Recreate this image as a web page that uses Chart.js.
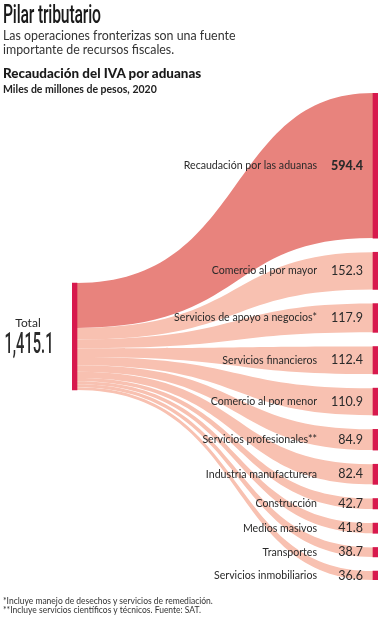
<!DOCTYPE html>
<html>
<head>
<meta charset="utf-8">
<script src="https://cdn.jsdelivr.net/npm/chart.js@4"></script>
<style>
body { margin: 0; background: #fff; font-family: Lato, sans-serif; color: #222; }
#wrap { position: relative; width: 385px; height: 620px; overflow: hidden; }
canvas { position: absolute; left: 0; top: 0; }
.t { position: absolute; left: 3px; white-space: nowrap; }
#title { top: 0px; font-family: Roboto; font-size: 25px; font-weight: 500; transform: scaleX(0.63); transform-origin: left top; letter-spacing: -0.3px; color: #1a1a1a; }
#sub { top: 29px; font-size: 12.4px; line-height: 14px; color: #333; }
#head { top: 65px; font-size: 13.4px; font-weight: 900; color: #1a1a1a; }
#unit { top: 83px; font-size: 10.5px; font-weight: bold; color: #222; }
#notes { top: 597px; font-size: 8.5px; line-height: 9px; color: #333; }
</style>
</head>
<body>
<div id="wrap">
  <canvas id="chart" width="385" height="620"></canvas>
  <div class="t" id="title">Pilar tributario</div>
  <div class="t" id="sub">Las operaciones fronterizas son una fuente<br>importante de recursos fiscales.</div>
  <div class="t" id="head">Recaudación del IVA por aduanas</div>
  <div class="t" id="unit">Miles de millones de pesos, 2020</div>
  <div class="t" id="notes">*Incluye manejo de desechos y servicios de remediación.<br>**Incluye servicios científicos y técnicos. Fuente: SAT.</div>
</div>
<script>
// datos
const totalLabel = 'Total';
const total = 1415.1;
const categories = [
    'Recaudación por las aduanas',
    'Comercio al por mayor',
    'Servicios de apoyo a negocios*',
    'Servicios financieros',
    'Comercio al por menor',
    'Servicios profesionales**',
    'Industria manufacturera',
    'Construcción',
    'Medios masivos',
    'Transportes',
    'Servicios inmobiliarios'
];
const values = [594.4, 152.3, 117.9, 112.4, 110.9, 84.9, 82.4, 42.7, 41.8, 38.7, 36.6];

const GAP = 58;           // separacion entre nodos (en unidades del eje derecho)
const nodeColor = '#d7194d';
const bigFlow = '#e8837d';
const smallFlow = '#f8c1b1';

// posiciones apiladas de los nodos de la derecha y de la izquierda
let rightNodes = [];
let leftStack = [];
let accR = 0, accL = 0;
values.forEach((v, i) => {
    rightNodes.push({ x: 1, y: [accR, accR + v] });
    leftStack.push([accL, accL + v]);
    accR += v + GAP;
    accL += v;
});
const rightMax = accR - GAP;
const leftSpan = total * 4.55;

function fmt(n) {
    return n.toLocaleString('en-US', { minimumFractionDigits: 1, maximumFractionDigits: 1 });
}

const flowPlugin = {
    id: 'flows',
    beforeDatasetsDraw(chart) {
        const ctx = chart.ctx;
        const sx = chart.scales.x, yL = chart.scales.yL, yR = chart.scales.yR;
        const x0 = sx.getPixelForValue(0) + 5;
        const x1 = sx.getPixelForValue(1) - 5;
        const c0 = x0 + (x1 - x0) * 0.58;
        const c1 = x1 - (x1 - x0) * 0.5;
        ctx.save();
        for (let i = values.length - 1; i >= 0; i--) {
            const lt = yL.getPixelForValue(leftStack[i][0]);
            const lb = yL.getPixelForValue(leftStack[i][1]);
            const rt = yR.getPixelForValue(rightNodes[i].y[0]);
            const rb = yR.getPixelForValue(rightNodes[i].y[1]);
            ctx.beginPath();
            ctx.moveTo(x0, lt);
            ctx.bezierCurveTo(c0, lt, c1, rt, x1, rt);
            ctx.lineTo(x1, rb);
            ctx.bezierCurveTo(c1, rb, c0, lb, x0, lb);
            ctx.closePath();
            ctx.fillStyle = i == 0 ? bigFlow : smallFlow;
            ctx.fill();
        }
        ctx.restore();
    },
    afterDatasetsDraw(chart) {
        const ctx = chart.ctx;
        const yL = chart.scales.yL, yR = chart.scales.yR;
        ctx.save();
        ctx.textBaseline = 'middle';
        ctx.fillStyle = '#2a2a2a';
        values.forEach((v, i) => {
            const y = yR.getPixelForValue((rightNodes[i].y[0] + rightNodes[i].y[1]) / 2);
            ctx.textAlign = 'right';
            ctx.font = '10.6px Lato';
            ctx.fillText(categories[i], 317, y);
            ctx.font = i == 0 ? '900 12.5px Lato' : '12.5px Lato';
            ctx.fillText(fmt(v), 363, y);
        });
        // total a la izquierda
        const yc = yL.getPixelForValue(total / 2);
        ctx.textAlign = 'center';
        ctx.font = '12px Lato';
        ctx.fillText(totalLabel, 28, yc - 13);
        ctx.font = '500 30px Roboto';
        const txt = fmt(total);
        const w = ctx.measureText(txt).width;
        ctx.translate(29, yc + 9);
        ctx.scale(49 / w, 1);
        ctx.fillText(txt, 0, 0);
        ctx.restore();
    }
};

new Chart(document.getElementById('chart'), {
    type: 'bar',
    data: {
        datasets: [{
            label: totalLabel,
            data: [{ x: 0, y: [0, total] }],
            yAxisID: 'yL',
            backgroundColor: nodeColor,
            barThickness: 10
        }, {
            label: 'Destino',
            data: rightNodes,
            yAxisID: 'yR',
            backgroundColor: nodeColor,
            barThickness: 10
        }]
    },
    options: {
        responsive: false,
        animation: false,
        grouped: false,
        layout: { padding: { left: 72, right: 7, top: 93, bottom: 40 } },
        plugins: { legend: { display: false }, tooltip: { enabled: false } },
        scales: {
            x: { type: 'linear', min: 0, max: 1, offset: false, display: false },
            yR: { type: 'linear', reverse: true, min: 0, max: rightMax, display: false },
            yL: { type: 'linear', reverse: true, min: total / 2 - leftSpan / 2, max: total / 2 + leftSpan / 2, display: false }
        }
    },
    plugins: [flowPlugin]
});
</script>
</body>
</html>
